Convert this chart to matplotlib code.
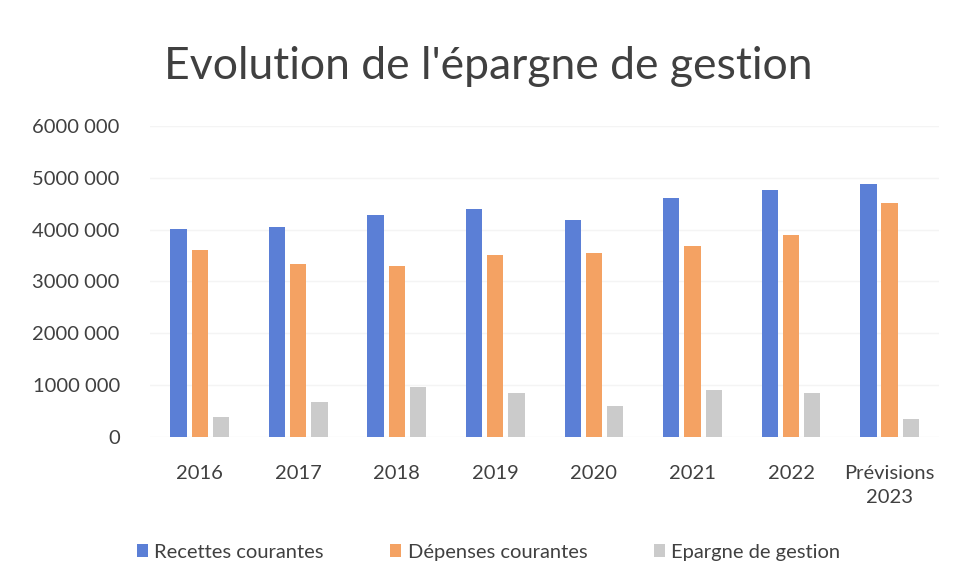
import matplotlib
matplotlib.use("Agg")
import matplotlib.pyplot as plt
import numpy as np

categories = ["2016", "2017", "2018", "2019", "2020", "2021", "2022", "Prévisions\n2023"]
recettes = [4020000, 4050000, 4280000, 4400000, 4180000, 4620000, 4770000, 4890000]
depenses = [3600000, 3340000, 3290000, 3520000, 3550000, 3680000, 3890000, 4520000]
epargne = [390000, 675000, 965000, 856000, 590000, 900000, 850000, 340000]
series_names = ["Recettes courantes", "Dépenses courantes", "Epargne de gestion"]
yticks = [0, 1000000, 2000000, 3000000, 4000000, 5000000, 6000000]
ytick_labels = ["0", "1000 000", "2000 000", "3000 000", "4000 000", "5000 000", "6000 000"]

plt.rcParams['font.family'] = ['Lato', 'DejaVu Sans']

fig = plt.figure(figsize=(9.58, 5.8), dpi=100)
ax = fig.add_axes([0.157, 0.2466, 0.823, 0.5362])

colors = ["#5b7fd6", "#f4a263", "#cbcbcb"]
x = np.arange(len(categories))
w = 0.165
step = 0.215
for i, (vals, c, n) in enumerate(zip([recettes, depenses, epargne], colors, series_names)):
    ax.bar(x + (i - 1) * step, vals, width=w, color=c, label=n, zorder=3)

ax.set_xlim(-0.5, len(categories) - 0.5)
ax.set_ylim(0, 6000000)
ax.set_yticks(yticks)
ax.set_yticklabels(ytick_labels, fontsize=14.5, color="#404040")
ax.set_xticks(x)
ax.set_xticklabels(categories, fontsize=14.5, color="#404040", linespacing=1.5)
ax.tick_params(axis='both', length=0)
ax.tick_params(axis='y', pad=22)
ax.tick_params(axis='x', pad=20)
ax.grid(axis='y', color="#f4f4f4", linewidth=1, zorder=0)
for s in ax.spines.values():
    s.set_visible(False)

fig.text(0.51, 0.885, "Evolution de l'épargne de gestion", ha='center', va='center',
         fontsize=32, color="#404040")

fig.legend(loc='center', bbox_to_anchor=(0.51, 0.048), ncol=3, frameon=False,
           fontsize=14.5, handlelength=0.55, handleheight=0.55, handletextpad=0.3,
           columnspacing=3.3, labelcolor="#404040")

fig.savefig("out.png", dpi=100, facecolor="white")
